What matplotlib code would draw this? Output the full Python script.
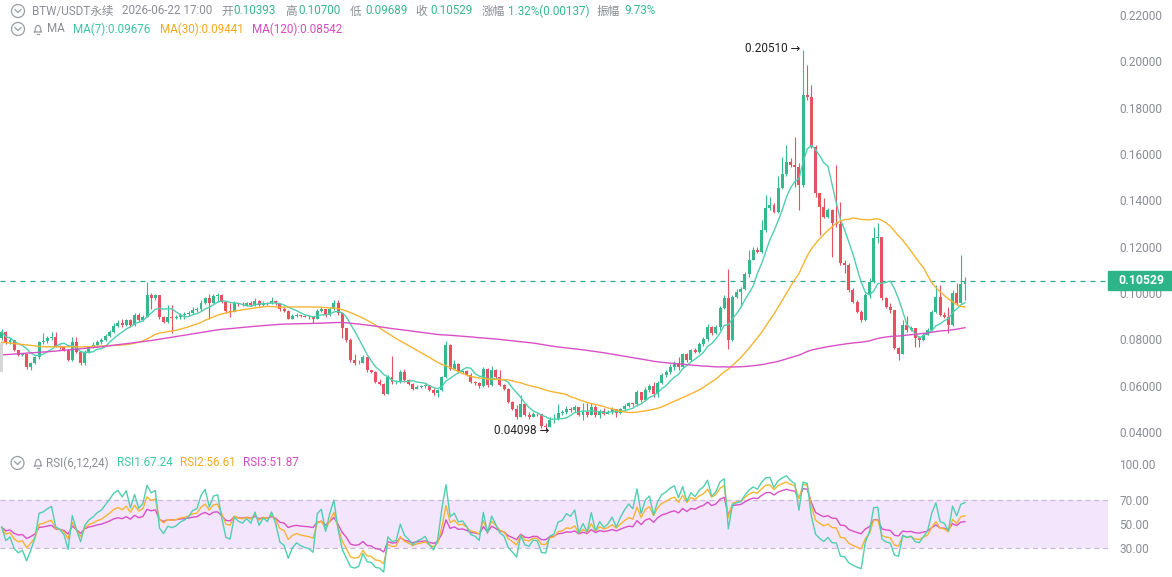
import numpy as np
import pandas as pd
import matplotlib
matplotlib.use('Agg')
import matplotlib.pyplot as plt
from matplotlib.patches import Rectangle, Ellipse
from matplotlib.transforms import blended_transform_factory

# ---------------------------
# Data
# ---------------------------
first_open = 0.0804

close = [
    0.0833, 0.0789, 0.0797, 0.0753, 0.0732, 0.0736, 0.0681, 0.0699, 0.0722, 0.0789,
    0.0794, 0.0804, 0.0811, 0.0771, 0.0765, 0.0753, 0.0710, 0.0789, 0.0746, 0.0696,
    0.0746, 0.0765, 0.0775, 0.0789, 0.0797, 0.0814, 0.0833, 0.0857, 0.0869, 0.0861,
    0.0883, 0.0861, 0.0905, 0.0883, 0.0897, 0.0991, 0.0977, 0.0991, 0.0897, 0.0876,
    0.0897, 0.0893, 0.0897, 0.0905, 0.0909, 0.0915, 0.0926, 0.0929, 0.0958, 0.0977,
    0.0958, 0.0987, 0.0991, 0.0962, 0.0923, 0.0919, 0.0958, 0.0951, 0.0948, 0.0955,
    0.0949, 0.0965, 0.0949, 0.0959, 0.0955, 0.0967, 0.0955, 0.0929, 0.0923, 0.0890,
    0.0900, 0.0905, 0.0900, 0.0897, 0.0895, 0.0890, 0.0923, 0.0929, 0.0905, 0.0929,
    0.0958, 0.0912, 0.0847, 0.0797, 0.0713, 0.0696, 0.0699, 0.0722, 0.0667, 0.0660,
    0.0617, 0.0609, 0.0563, 0.0638, 0.0617, 0.0619, 0.0660, 0.0624, 0.0609, 0.0588,
    0.0595, 0.0598, 0.0602, 0.0583, 0.0569, 0.0581, 0.0638, 0.0775, 0.0674, 0.0693,
    0.0660, 0.0664, 0.0645, 0.0617, 0.0612, 0.0598, 0.0674, 0.0602, 0.0670, 0.0638,
    0.0602, 0.0588, 0.0530, 0.0501, 0.0465, 0.0523, 0.0473, 0.0465, 0.0480, 0.0477,
    0.0425, 0.0422, 0.0454, 0.0458, 0.0483, 0.0487, 0.0501, 0.0497, 0.0509, 0.0473,
    0.0488, 0.0473, 0.0509, 0.0473, 0.0492, 0.0480, 0.0486, 0.0498, 0.0483, 0.0498,
    0.0512, 0.0524, 0.0519, 0.0574, 0.0538, 0.0581, 0.0598, 0.0564, 0.0613, 0.0646,
    0.0660, 0.0682, 0.0696, 0.0679, 0.0737, 0.0711, 0.0754, 0.0747, 0.0780, 0.0800,
    0.0855, 0.0826, 0.0852, 0.0934, 0.0977, 0.0797, 0.0984, 0.1006, 0.1016, 0.1082,
    0.1143, 0.1186, 0.1179, 0.1272, 0.1365, 0.1380, 0.1351, 0.1452, 0.1514, 0.1567,
    0.1553, 0.1546, 0.1466, 0.1855, 0.1848, 0.1632, 0.1431, 0.1373, 0.1330, 0.1359,
    0.1301, 0.1298, 0.1128, 0.1121, 0.1013, 0.0963, 0.0920, 0.0884, 0.0992, 0.1049,
    0.1236, 0.1241, 0.0977, 0.0941, 0.0927, 0.0761, 0.0739, 0.0862, 0.0840, 0.0847,
    0.0804, 0.0797, 0.0819, 0.0840, 0.0919, 0.0984, 0.0905, 0.0898, 0.0862, 0.0999,
    0.0955, 0.10393, 0.10529,
]

high = [
    0.0843, 0.0837, 0.0804, 0.0799, 0.0756, 0.0742, 0.0739, 0.0703, 0.0727, 0.0792,
    0.0828, 0.0814, 0.0833, 0.0833, 0.0775, 0.0771, 0.0756, 0.0811, 0.0811, 0.0749,
    0.0753, 0.0771, 0.0789, 0.0797, 0.0804, 0.0823, 0.0840, 0.0871, 0.0883, 0.0886,
    0.0890, 0.0886, 0.0912, 0.0912, 0.0905, 0.1049, 0.1001, 0.0998, 0.0991, 0.0900,
    0.0948, 0.0948, 0.0905, 0.0912, 0.0919, 0.0923, 0.0941, 0.0938, 0.0972, 0.0984,
    0.0998, 0.0998, 0.1001, 0.0995, 0.0967, 0.0955, 0.0967, 0.0959, 0.0961, 0.0961,
    0.0967, 0.0977, 0.0969, 0.0967, 0.0962, 0.0981, 0.0972, 0.0955, 0.0938, 0.0926,
    0.0909, 0.0912, 0.0907, 0.0906, 0.0905, 0.0900, 0.0933, 0.0938, 0.0929, 0.0938,
    0.0969, 0.0972, 0.0919, 0.0847, 0.0804, 0.0739, 0.0710, 0.0732, 0.0722, 0.0670,
    0.0664, 0.0631, 0.0612, 0.0645, 0.0727, 0.0624, 0.0667, 0.0671, 0.0631, 0.0612,
    0.0601, 0.0604, 0.0609, 0.0602, 0.0592, 0.0588, 0.0641, 0.0794, 0.0779, 0.0713,
    0.0696, 0.0670, 0.0667, 0.0653, 0.0621, 0.0617, 0.0681, 0.0678, 0.0684, 0.0674,
    0.0667, 0.0609, 0.0592, 0.0534, 0.0516, 0.0559, 0.0526, 0.0487, 0.0487, 0.0483,
    0.0465, 0.0437, 0.0465, 0.0480, 0.0523, 0.0497, 0.0512, 0.0509, 0.0516, 0.0492,
    0.0524, 0.0524, 0.0526, 0.0516, 0.0498, 0.0502, 0.0495, 0.0506, 0.0501, 0.0503,
    0.0521, 0.0531, 0.0526, 0.0581, 0.0570, 0.0593, 0.0607, 0.0617, 0.0621, 0.0653,
    0.0670, 0.0693, 0.0708, 0.0722, 0.0742, 0.0742, 0.0760, 0.0761, 0.0788, 0.0809,
    0.0866, 0.0858, 0.0862, 0.0944, 0.0991, 0.1102, 0.0991, 0.1016, 0.1025, 0.1092,
    0.1186, 0.1200, 0.1200, 0.1315, 0.1423, 0.1416, 0.1387, 0.1503, 0.1589, 0.1639,
    0.1582, 0.1675, 0.1560, 0.2051, 0.1985, 0.1899, 0.1639, 0.1431, 0.1409, 0.1365,
    0.1361, 0.1553, 0.1395, 0.1143, 0.1128, 0.1020, 0.0970, 0.0927, 0.0999, 0.1063,
    0.1287, 0.1301, 0.1243, 0.0984, 0.0958, 0.0927, 0.0768, 0.0884, 0.0901, 0.0858,
    0.0847, 0.0814, 0.0826, 0.0847, 0.0927, 0.1035, 0.1035, 0.0919, 0.0941, 0.1013,
    0.1042, 0.1164, 0.1070,
]

low = [
    0.0797, 0.0782, 0.0779, 0.0749, 0.0727, 0.0730, 0.0671, 0.0667, 0.0693, 0.0717,
    0.0782, 0.0785, 0.0797, 0.0765, 0.0759, 0.0748, 0.0706, 0.0707, 0.0742, 0.0690,
    0.0690, 0.0742, 0.0761, 0.0771, 0.0782, 0.0794, 0.0811, 0.0828, 0.0854, 0.0854,
    0.0857, 0.0854, 0.0857, 0.0876, 0.0880, 0.0895, 0.0933, 0.0972, 0.0890, 0.0869,
    0.0871, 0.0828, 0.0886, 0.0890, 0.0890, 0.0900, 0.0909, 0.0919, 0.0923, 0.0952,
    0.0890, 0.0955, 0.0962, 0.0955, 0.0915, 0.0897, 0.0919, 0.0943, 0.0943, 0.0945,
    0.0943, 0.0946, 0.0943, 0.0946, 0.0949, 0.0951, 0.0949, 0.0923, 0.0919, 0.0886,
    0.0886, 0.0897, 0.0895, 0.0895, 0.0889, 0.0869, 0.0890, 0.0919, 0.0897, 0.0900,
    0.0926, 0.0905, 0.0804, 0.0789, 0.0703, 0.0689, 0.0693, 0.0696, 0.0660, 0.0653,
    0.0612, 0.0602, 0.0559, 0.0563, 0.0609, 0.0609, 0.0612, 0.0617, 0.0602, 0.0583,
    0.0588, 0.0592, 0.0592, 0.0578, 0.0559, 0.0552, 0.0578, 0.0635, 0.0667, 0.0670,
    0.0656, 0.0656, 0.0641, 0.0612, 0.0602, 0.0592, 0.0595, 0.0595, 0.0598, 0.0631,
    0.0598, 0.0581, 0.0526, 0.0494, 0.0458, 0.0468, 0.0468, 0.0458, 0.0463, 0.0471,
    0.0419, 0.04098, 0.0422, 0.0437, 0.0454, 0.0473, 0.0480, 0.0487, 0.0487, 0.0469,
    0.0452, 0.0466, 0.0473, 0.0466, 0.0459, 0.0473, 0.0477, 0.0480, 0.0463, 0.0480,
    0.0492, 0.0506, 0.0512, 0.0512, 0.0531, 0.0535, 0.0574, 0.0552, 0.0552, 0.0607,
    0.0636, 0.0650, 0.0670, 0.0670, 0.0675, 0.0703, 0.0708, 0.0740, 0.0742, 0.0771,
    0.0794, 0.0819, 0.0823, 0.0840, 0.0930, 0.0757, 0.0794, 0.0977, 0.0941, 0.1013,
    0.1071, 0.1143, 0.1171, 0.1174, 0.1265, 0.1359, 0.1344, 0.1347, 0.1448, 0.1503,
    0.1546, 0.1459, 0.1359, 0.1459, 0.1834, 0.1625, 0.1416, 0.1251, 0.1323, 0.1323,
    0.1154, 0.1287, 0.1121, 0.1085, 0.1006, 0.0955, 0.0912, 0.0876, 0.0881, 0.0977,
    0.1042, 0.1215, 0.0970, 0.0934, 0.0915, 0.0757, 0.0710, 0.0736, 0.0833, 0.0837,
    0.0768, 0.0768, 0.0794, 0.0819, 0.0837, 0.0915, 0.0901, 0.0891, 0.0826, 0.0858,
    0.0948, 0.0955, 0.09689,
]

# MA lines at the left edge depend on candles before the visible window,
# so their first points are read straight off the picture
ma120_lead_idx = [0, 12, 24, 36]
ma120_lead = [0.0733, 0.0748, 0.0768, 0.0795]
ma120_join = 48
ma30_lead_idx = [0, 10, 20]
ma30_lead = [0.0788, 0.0768, 0.0768]
ma30_join = 29

price_ticks = [0.04, 0.06, 0.08, 0.10, 0.12, 0.14, 0.16, 0.18, 0.20, 0.22]
rsi_ticks = [100, 70, 50, 30]
last_price = 0.10529
peak_label = "0.20510"
trough_label = "0.04098"

header1 = [("BTW/USDT永续", 32, 'gray'), ("2026-06-22 17:00", 122, 'gray'),
           ("开", 221, 'gray'), ("0.10393", 233, 'up'),
           ("高", 285, 'gray'), ("0.10700", 298, 'up'),
           ("低", 350, 'gray'), ("0.09689", 365, 'up'),
           ("收", 415, 'gray'), ("0.10529", 430, 'up'),
           ("涨幅", 482, 'gray'), ("1.32%(0.00137)", 508, 'up'),
           ("振幅", 597, 'gray'), ("9.73%", 624, 'up')]
header2 = [("MA", 47, 'gray'), ("MA(7):0.09676", 73, 'ma7'),
           ("MA(30):0.09441", 160, 'ma30'), ("MA(120):0.08542", 252, 'ma120')]
header3 = [("RSI(6,12,24)", 46, 'gray'), ("RSI1:67.24", 117, 'ma7'),
           ("RSI2:56.61", 180, 'ma30'), ("RSI3:51.87", 243, 'ma120')]

# ---------------------------
# Styling
# ---------------------------
plt.rcParams['font.family'] = ['Roboto', 'Noto Sans CJK SC', 'DejaVu Sans']
UP = '#35b88c'
DOWN = '#e8515f'
C_MA7 = '#4fcfb0'
C_MA30 = '#f6b432'
C_MA120 = '#d94fc6'
GRAY = '#8a8d93'
colors = {'gray': GRAY, 'up': '#35b88c', 'ma7': '#3cc7a5', 'ma30': '#f2aa1f', 'ma120': '#d54bbf'}

W, H = 1172, 577
fig = plt.figure(figsize=(W / 100, H / 100), dpi=100)
fig.patch.set_facecolor('white')

AX_RIGHT = 1108
ax = fig.add_axes([0, 1 - 447 / H, AX_RIGHT / W, 447 / H])
ax_rsi = fig.add_axes([0, 0, AX_RIGHT / W, 122 / H])

c = np.array(close)
hi = np.array(high)
lo = np.array(low)
o = np.concatenate([[first_open], c[:-1]])
hi = np.maximum(hi, np.maximum(o, c))
lo = np.minimum(lo, np.minimum(o, c))
n = len(c)
x = np.arange(n)

# pixel geometry: first candle at 1.7px, spacing so that last sits at 965px
step = (965 - 1.7) / (n - 1)
x_left = -1.7 / step
x_right = (AX_RIGHT - 1.7) / step

# ---------------------------
# Candles + MA
# ---------------------------
up = c >= o
col = np.where(up, UP, DOWN)
ax.vlines(x, lo, hi, colors=col, linewidth=0.8, zorder=2)
body_h = np.maximum(np.abs(c - o), 0.0003)
ax.bar(x, body_h, bottom=np.minimum(o, c), width=0.72, color=col, linewidth=0, zorder=3)

s = pd.Series(c)
ma7 = s.rolling(7, min_periods=1).mean().values
ma30 = s.rolling(30, min_periods=1).mean().values
ma120 = s.rolling(120, min_periods=1).mean().values

ax.plot(x, ma7, color=C_MA7, lw=1.0, zorder=4)
ax.plot(list(ma30_lead_idx) + list(x[ma30_join:]), list(ma30_lead) + list(ma30[ma30_join:]),
        color=C_MA30, lw=1.0, zorder=4)
ax.plot(list(ma120_lead_idx) + list(x[ma120_join:]), list(ma120_lead) + list(ma120[ma120_join:]),
        color=C_MA120, lw=1.0, zorder=4)

ax.axhline(last_price, color='#2aa889', lw=0.9, dashes=(4, 4), zorder=1)

ymin = 0.22 - 432 / 2317
ymax = 0.22 + 15 / 2317
ax.set_xlim(x_left, x_right)
ax.set_ylim(ymin, ymax)
ax.yaxis.tick_right()
ax.set_yticks(price_ticks)
ax.set_yticklabels([f"{t:.5f}" for t in price_ticks])
ax.tick_params(axis='y', length=0, pad=8, labelsize=8.6, labelcolor=GRAY)
ax.set_xticks([])
for sp in ax.spines.values():
    sp.set_visible(False)

# last price box
tr = blended_transform_factory(ax.transAxes, ax.transData)
box_h = 19 / 2317
ax.add_patch(Rectangle((1.0, last_price - box_h / 2), (W - AX_RIGHT) / AX_RIGHT, box_h,
                       transform=tr, clip_on=False, color='#2db489', zorder=6))
ax.text(1.0 + 10 / AX_RIGHT, last_price, f"{last_price:.5f}", transform=tr, ha='left',
        va='center', color='white', fontsize=8.8, fontweight='bold', zorder=7, clip_on=False)

# high / low labels
i_hi = int(np.argmax(hi))
i_lo = int(np.argmin(lo))
ax.text(i_hi - 0.6, hi[i_hi] + 0.0006, peak_label + " →", ha='right', va='center',
        fontsize=8.5, color='#222222', family=['Roboto', 'DejaVu Sans'], zorder=5)
ax.text(i_lo + 1.0, lo[i_lo] - 0.0002, trough_label + " →", ha='right', va='center',
        fontsize=8.5, color='#222222', family=['Roboto', 'DejaVu Sans'], zorder=5)

# ---------------------------
# RSI (Wilder smoothing, seeded with the mean move of the first candles)
# ---------------------------
def rsi(values, period, seed_len=24):
    d = np.diff(values)
    g = np.clip(d, 0, None)
    l = np.clip(-d, 0, None)
    ag = g[:seed_len].mean()
    al = l[:seed_len].mean()
    out = [100 - 100 / (1 + ag / al)]
    for gi, li in zip(g, l):
        ag = (ag * (period - 1) + gi) / period
        al = (al * (period - 1) + li) / period
        out.append(100 - 100 / (1 + ag / al))
    return np.array(out)

ax_rsi.axhspan(30, 70, color='#f3e5fc', lw=0, zorder=0)
ax_rsi.axhline(70, color='#c9b8d6', lw=0.9, dashes=(4, 3), zorder=1)
ax_rsi.axhline(30, color='#c9b8d6', lw=0.9, dashes=(4, 3), zorder=1)
ax_rsi.plot(x, rsi(c, 24), color=C_MA120, lw=1.0, zorder=3)
ax_rsi.plot(x, rsi(c, 12), color=C_MA30, lw=1.0, zorder=3)
ax_rsi.plot(x, rsi(c, 6), color=C_MA7, lw=1.0, zorder=3)
ax_rsi.set_xlim(x_left, x_right)
ax_rsi.set_ylim(30 - 29 / 1.2, 100 + 9 / 1.2)
ax_rsi.yaxis.tick_right()
ax_rsi.set_yticks(rsi_ticks)
ax_rsi.set_yticklabels([f"{t:.2f}" for t in rsi_ticks])
ax_rsi.tick_params(axis='y', length=0, pad=8, labelsize=8.6, labelcolor=GRAY)
ax_rsi.set_xticks([])
for sp in ax_rsi.spines.values():
    sp.set_visible(False)

# ---------------------------
# Header texts and icons
# ---------------------------
def put_row(items, y_px):
    for txt, xp, key in items:
        fig.text(xp / W, 1 - y_px / H, txt, ha='left', va='center', fontsize=8.4,
                 color=colors[key])

def chevron_icon(xc, yc):
    fig.add_artist(Ellipse((xc / W, 1 - yc / H), 13 / W, 13 / H, transform=fig.transFigure,
                           fill=False, edgecolor='#9a9da3', lw=0.9))
    fig.add_artist(plt.Line2D([(xc - 3) / W, xc / W, (xc + 3) / W],
                              [1 - (yc - 1.5) / H, 1 - (yc + 1.5) / H, 1 - (yc - 1.5) / H],
                              transform=fig.transFigure, color='#9a9da3', lw=0.9))

def bell_icon(xc, yc):
    bx = np.array([-3.5, -3, -2.5, -1.5, 0, 1.5, 2.5, 3, 3.5, -3.5])
    by = np.array([3, 2, -1, -3, -3.8, -3, -1, 2, 3, 3])
    fig.add_artist(plt.Line2D((xc + bx) / W, 1 - (yc + by) / H, transform=fig.transFigure,
                              color='#9a9da3', lw=0.9))
    fig.add_artist(plt.Line2D([(xc - 1) / W, (xc + 1) / W], [1 - (yc + 4.5) / H, 1 - (yc + 4.5) / H],
                              transform=fig.transFigure, color='#9a9da3', lw=0.9))

chevron_icon(18, 11)
put_row(header1, 11)
chevron_icon(18, 29)
bell_icon(38, 29)
put_row(header2, 29)
chevron_icon(17.5, 463)
bell_icon(38, 463)
put_row(header3, 463)

# small grey handle at the left edge
fig.add_artist(Rectangle((0, 1 - 372 / H), 3 / W, 29 / H, transform=fig.transFigure,
                         color='#d6d6d6', lw=0))

fig.savefig('out.png', dpi=100, facecolor='white')
